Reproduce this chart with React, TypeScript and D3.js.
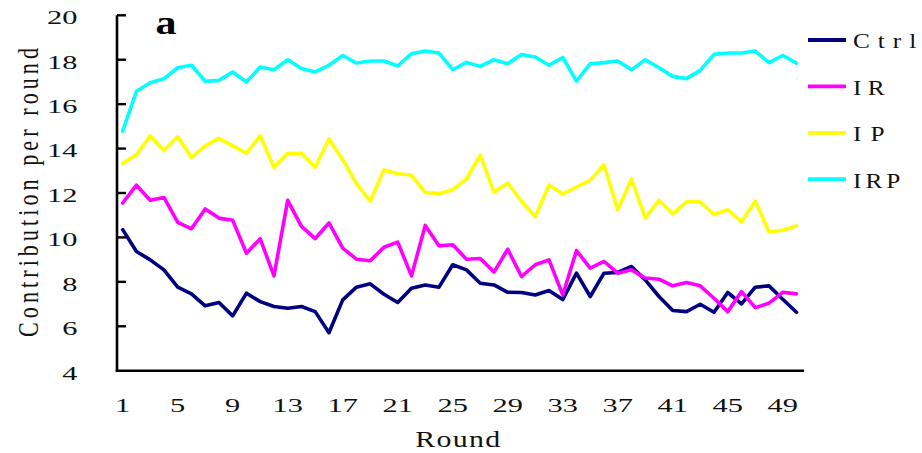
import React from 'react';
import * as d3 from 'd3';

const seriesNames = ['Ctrl', 'IR', 'IP', 'IRP'];
const seriesColors = ['#000080', '#ff00ff', '#ffff00', '#00ffff'];

const ctrl = [10.35, 9.37, 8.99, 8.54, 7.76, 7.46, 6.92, 7.07, 6.47, 7.49,
  7.11, 6.89, 6.81, 6.89, 6.66, 5.71, 7.19, 7.76, 7.91, 7.44,
  7.07, 7.71, 7.86, 7.76, 8.77, 8.54, 7.94, 7.86, 7.53, 7.52,
  7.41, 7.61, 7.2, 8.39, 7.34, 8.39, 8.42, 8.69, 8.09, 7.34,
  6.71, 6.66, 6.99, 6.63, 7.52, 7.01, 7.76, 7.82, 7.22, 6.63];
const ir = [11.55, 12.35, 11.67, 11.8, 10.68, 10.39, 11.28, 10.87, 10.77, 9.29,
  9.94, 8.27, 11.67, 10.5, 9.95, 10.65, 9.52, 9.02, 8.95, 9.56,
  9.79, 8.27, 10.54, 9.62, 9.67, 9.02, 9.05, 8.44, 9.47, 8.24,
  8.77, 8.99, 7.41, 9.41, 8.62, 8.92, 8.39, 8.54, 8.17, 8.12,
  7.82, 7.97, 7.82, 7.26, 6.66, 7.56, 6.84, 7.04, 7.53, 7.46];
const ip = [13.34, 13.72, 14.57, 13.91, 14.54, 13.6, 14.12, 14.46, 14.12, 13.79,
  14.58, 13.16, 13.79, 13.79, 13.16, 14.43, 13.5, 12.42, 11.63, 13.04,
  12.87, 12.81, 12.03, 11.97, 12.15, 12.63, 13.7, 12.03, 12.45, 11.63,
  10.93, 12.36, 11.95, 12.27, 12.57, 13.27, 11.25, 12.63, 10.88, 11.67,
  11.06, 11.6, 11.6, 11.03, 11.25, 10.7, 11.63, 10.25, 10.32, 10.52];
const irp = [14.79, 16.58, 16.96, 17.15, 17.64, 17.75, 17.03, 17.07, 17.45, 17.0,
  17.67, 17.55, 18.0, 17.6, 17.45, 17.75, 18.19, 17.85, 17.94, 17.94,
  17.72, 18.27, 18.39, 18.3, 17.55, 17.88, 17.7, 18.0, 17.82, 18.24,
  18.12, 17.75, 18.1, 17.04, 17.82, 17.87, 17.94, 17.55, 18.0, 17.64,
  17.25, 17.15, 17.52, 18.24, 18.3, 18.3, 18.39, 17.87, 18.19, 17.85];

const seriesValues = [ctrl, ir, ip, irp];
const yTicks = [4, 6, 8, 10, 12, 14, 16, 18, 20];
const xTicks = [1, 5, 9, 13, 17, 21, 25, 29, 33, 37, 41, 45, 49];
const xTitle = 'Round';
const yTitle = 'Contribution per round';
const panelLabel = 'a';

const FONT = '"Liberation Serif", "DejaVu Serif", serif';
const CHAR_W = 15.2;
const TEXT_COLOR = '#111';
const SX = 1.3;
const LSX = 1.15;

export default function App() {
  const x = d3.scaleLinear().domain([1, 50]).range([122.7, 796.5]);
  const y = d3.scaleLinear().domain([4, 20]).range([370.7, 15.3]);
  const axisX = 117;
  const axisRight = 804;
  const line = d3.line<number>()
    .x((_, i) => x(i + 1))
    .y((d) => y(d));

  return (
    <svg width={922} height={453} style={{ position: 'absolute', left: 0, top: 0, background: '#fff' }}>
      <rect x={0} y={0} width={922} height={453} fill="#fff" />
      {seriesValues.map((vals, si) => (
        <path key={si} d={line(vals) || ''} fill="none" stroke={seriesColors[si]}
          strokeWidth={3.6} strokeLinejoin="round" strokeLinecap="round" />
      ))}
      <line x1={axisX} x2={axisX} y1={y(20)} y2={y(4)} stroke="#000" strokeWidth={2.6} />
      <line x1={axisX - 1.3} x2={axisRight} y1={y(4)} y2={y(4)} stroke="#000" strokeWidth={2.4} />
      {yTicks.filter((t) => t !== 4).map((t) => (
        <line key={t} x1={axisX} x2={axisX + 9} y1={y(t)} y2={y(t)} stroke="#000" strokeWidth={2.4} />
      ))}
      {yTicks.map((t) => {
        const s = String(t);
        return (
          <text key={t} x={77.5} y={y(t) + 8.8} textAnchor="end" fontFamily={FONT} fontSize={19}
            textLength={s.length * CHAR_W} lengthAdjust="spacingAndGlyphs" fill={TEXT_COLOR}>{s}</text>
        );
      })}
      {xTicks.map((t) => {
        const s = String(t);
        return (
          <text key={t} x={x(t)} y={411.5} textAnchor="middle" fontFamily={FONT} fontSize={19}
            textLength={s.length * CHAR_W} lengthAdjust="spacingAndGlyphs" fill={TEXT_COLOR}>{s}</text>
        );
      })}
      <text transform={`translate(457.7,446.5) scale(${SX},1)`} textAnchor="middle" fontFamily={FONT} fontSize={23}
        textLength={85 / SX} lengthAdjust="spacing" fill={TEXT_COLOR}>{xTitle}</text>
      <text transform="translate(38,192.5) rotate(-90) scale(1.05,1.45)" textAnchor="middle"
        fontFamily={FONT} fontSize={21} textLength={289 / 1.05} lengthAdjust="spacing" fill={TEXT_COLOR}>{yTitle}</text>
      <text x={155.5} y={33.5} fontFamily={FONT} fontSize={34} fontWeight="bold"
        textLength={21} lengthAdjust="spacingAndGlyphs" fill="#000">{panelLabel}</text>
      {seriesNames.map((n, i) => {
        const ly = 40 + i * 46.4;
        return (
          <g key={n}>
            <line x1={808} x2={846} y1={ly} y2={ly} stroke={seriesColors[i]} strokeWidth={3.8} />
            <text transform={`translate(853,${ly + 8.3}) scale(${LSX},1)`} fontFamily={FONT} fontSize={22}
              textLength={(n.length * 15.8) / LSX} lengthAdjust="spacing" fill={TEXT_COLOR}>{n}</text>
          </g>
        );
      })}
    </svg>
  );
}
